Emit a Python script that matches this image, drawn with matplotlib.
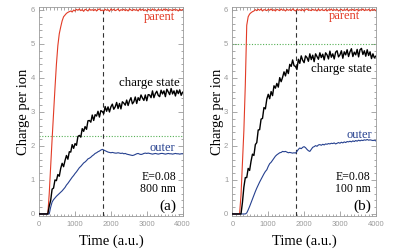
import numpy as np
import matplotlib
matplotlib.use("Agg")
import matplotlib.pyplot as plt
from matplotlib.ticker import MultipleLocator

# ---------------- data ----------------
time = np.arange(0, 4001, 40)  # sample times (a.u.), 101 samples

parent_a = [0, 0, 0, 0, 0, 0, 0, 0.6, 1.4, 2.2, 2.95, 3.7, 4.4, 4.95, 5.3, 5.5, 5.68, 5.8, 5.85, 5.9,
            5.93, 5.95, 5.97, 5.94, 6.0,
            5.97, 6.02, 5.99, 6.03, 5.98, 6.01, 5.96, 6.02, 6.00, 5.97, 6.03, 5.99, 6.01, 5.98, 6.02, 5.97, 6.01, 6.03, 5.98, 6.00,
            5.97, 6.02, 5.99, 6.01, 5.96, 6.03, 5.99, 6.02, 5.98, 6.00, 6.03, 5.97, 6.01, 5.99, 6.02, 5.98, 6.01, 5.97, 6.03, 6.00,
            5.98, 6.02, 5.99, 6.01, 5.97, 6.03, 5.99, 6.02, 5.98, 6.01, 5.97, 6.02, 6.00, 5.98, 6.03, 5.99, 6.01, 5.97, 6.02, 5.99,
            6.01, 5.98, 6.03, 5.99, 6.02, 5.97, 6.01, 6.00, 5.98, 6.02, 5.99, 6.01, 5.97, 6.02, 5.99, 6.01]

charge_a = [0, 0, 0, 0, 0, 0, 0, 0.23, 0.40, 0.73, 0.76, 1.00, 0.98, 1.16, 1.11, 1.34, 1.49, 1.39, 1.57, 1.72,
            1.61, 1.83, 1.82, 2.04, 1.93, 2.07, 2.02, 2.28, 2.31, 2.26, 2.51, 2.43, 2.57, 2.49, 2.74, 2.75, 2.70, 2.91, 2.75, 2.92,
            2.88, 3.02, 2.85, 3.04, 3.01, 2.95, 3.16, 3.02, 3.15, 3.00, 3.15, 3.23, 3.08, 3.15, 3.28, 3.10, 3.25, 3.09, 3.30, 3.26,
            3.20, 3.35, 3.19, 3.33, 3.42, 3.24, 3.30, 3.44, 3.25, 3.42, 3.34, 3.50, 3.41, 3.34, 3.50, 3.33, 3.51, 3.50, 3.42, 3.62,
            3.42, 3.54, 3.61, 3.49, 3.45, 3.64, 3.53, 3.62, 3.45, 3.67, 3.59, 3.51, 3.69, 3.53, 3.62, 3.47, 3.64, 3.54, 3.65, 3.49,
            3.58]

outer_a = [0, 0, 0, 0, 0, 0, 0, 0, 0.20, 0.35, 0.42, 0.47, 0.52, 0.56, 0.60, 0.64, 0.68, 0.73, 0.78, 0.85,
           0.90, 0.96, 1.02, 1.08, 1.13, 1.19, 1.24, 1.30, 1.36, 1.40, 1.45, 1.50, 1.53, 1.57, 1.62, 1.64, 1.67, 1.71, 1.74, 1.78,
           1.80, 1.83, 1.85, 1.88, 1.90, 1.88, 1.86, 1.84, 1.82, 1.81, 1.80, 1.81, 1.80, 1.79, 1.79, 1.80, 1.79, 1.78, 1.79, 1.77,
           1.78, 1.76, 1.75, 1.74, 1.73, 1.72, 1.73, 1.75, 1.77, 1.78, 1.76, 1.75, 1.76, 1.78, 1.79, 1.78, 1.79, 1.78, 1.77, 1.76,
           1.77, 1.78, 1.77, 1.76, 1.77, 1.78, 1.78, 1.77, 1.76, 1.77, 1.78, 1.77, 1.77, 1.76, 1.77, 1.78, 1.77, 1.77, 1.76, 1.77,
           1.77]

parent_b = [0, 0, 0, 0, 0, 0, 0.55, 1.5, 2.45, 3.8, 5.55, 5.8, 5.88, 5.92, 5.95, 5.97,
            6.01, 5.98, 6.02, 5.99, 6.03, 5.97, 6.01, 6.00, 5.98, 6.02, 5.99, 6.03, 5.98, 6.01, 5.97, 6.02, 6.00, 5.98, 6.03, 5.99,
            6.01, 5.97, 6.02, 5.99, 6.01, 5.98, 6.03, 6.00, 5.97, 6.02, 5.99, 6.01, 5.98, 6.02, 5.97, 6.01, 6.03, 5.99, 6.00, 5.98,
            6.02, 5.99, 6.01, 5.97, 6.03, 5.98, 6.01, 6.00, 5.98, 6.02, 5.97, 6.01, 5.99, 6.03, 5.98, 6.01, 5.99, 6.02, 5.97, 6.00,
            6.02, 5.98, 6.01, 5.99, 6.03, 5.97, 6.01, 5.99, 6.02, 5.98, 6.00, 6.02, 5.97, 6.01, 5.99, 6.03, 5.98, 6.01, 5.99, 6.02,
            5.97, 6.01, 5.99, 6.02, 5.98]

charge_b = [0, 0, 0, 0, 0, 0, 0, 0.34, 0.79, 1.07, 1.07, 1.34, 1.28, 1.55, 1.76, 1.72, 2.04, 2.10, 2.47, 2.48,
            2.79, 2.81, 3.13, 3.09, 3.38, 3.52, 3.39, 3.60, 3.48, 3.77, 3.70, 3.84, 3.73, 4.01, 3.89, 4.02, 4.18, 4.06, 4.25, 4.13,
            4.40, 4.34, 4.53, 4.36, 4.34, 4.25, 4.55, 4.43, 4.65, 4.52, 4.45, 4.65, 4.60, 4.49, 4.71, 4.54, 4.67, 4.48, 4.71, 4.63,
            4.55, 4.74, 4.60, 4.70, 4.53, 4.74, 4.68, 4.56, 4.79, 4.61, 4.71, 4.56, 4.76, 4.80, 4.62, 4.68, 4.80, 4.58, 4.77, 4.68,
            4.83, 4.63, 4.77, 4.86, 4.63, 4.76, 4.68, 4.84, 4.62, 4.83, 4.87, 4.69, 4.80, 4.64, 4.83, 4.66, 4.77, 4.57, 4.71, 4.59,
            4.64]

outer_b = [0, 0, 0, 0, 0, 0, 0, 0, 0, 0, 0.03, 0.12, 0.22, 0.33, 0.44, 0.55, 0.66, 0.76, 0.85, 0.94,
           1.02, 1.10, 1.18, 1.25, 1.30, 1.40, 1.48, 1.52, 1.58, 1.64, 1.70, 1.74, 1.77, 1.80, 1.81, 1.84, 1.83, 1.84, 1.82, 1.80,
           1.81, 1.80, 1.79, 1.80, 1.79, 1.84, 1.90, 1.94, 1.92, 1.96, 1.98, 1.95, 1.90, 1.86, 1.84, 1.90, 1.96, 1.98, 2.01, 1.99,
           2.03, 2.04, 2.02, 2.05, 2.03, 2.06, 2.05, 2.07, 2.06, 2.08, 2.07, 2.09, 2.06, 2.08, 2.10, 2.08, 2.11, 2.09, 2.12, 2.10,
           2.13, 2.12, 2.14, 2.12, 2.15, 2.13, 2.16, 2.14, 2.17, 2.15, 2.17, 2.16, 2.18, 2.17, 2.19, 2.17, 2.18, 2.17, 2.16, 2.17,
           2.15]

green_level = [2.28, 5.0]
dash_time = [1770, 1770]
energy = ["E=0.08", "E=0.08"]
wavelength = ["800 nm", "100 nm"]
panel_tag = ["(a)", "(b)"]

xticks = [0, 1000, 2000, 3000, 4000]
yticks = [0, 1, 2, 3, 4, 5, 6]

# ---------------- styling ----------------
RED = "#e23b26"
BLUE = "#25408f"
GRAY = "#9a9a9a"
SERIF = "Liberation Serif"
SANS = "Liberation Sans"

fig = plt.figure(figsize=(4, 2.5), dpi=100)
ax_a = fig.add_axes([0.098, 0.136, 0.3585, 0.835])
ax_b = fig.add_axes([0.581, 0.136, 0.3585, 0.835])

panels = [
    (ax_a, parent_a, charge_a, outer_a, 0,
     dict(parent=(3785, 5.80), charge=(3925, 3.86), outer=(3785, 1.93), label=(3815, 1.10, 0.74, 0.24))),
    (ax_b, parent_b, charge_b, outer_b, 1,
     dict(parent=(3562, 5.82), charge=(3888, 4.26), outer=(3888, 2.32), label=(3860, 1.10, 0.74, 0.24))),
]

for ax, par, chg, out, k, pos in panels:
    ax.plot(time, par, color=RED, lw=0.8, zorder=3)
    ax.plot(time, chg, color="black", lw=1.0, zorder=4)
    ax.plot(time, out, color=BLUE, lw=0.8, zorder=3)
    ax.axhline(green_level[k], color="#55b055", lw=0.8, ls=(0, (1, 1.5)), zorder=2)
    ax.axvline(dash_time[k], color="#333333", lw=0.8, ls=(0, (4, 3)), zorder=2)

    ax.set_xlim(0, 4000)
    ax.set_ylim(-0.06, 6.08)
    ax.set_xticks(xticks)
    ax.set_yticks(yticks)
    ax.xaxis.set_minor_locator(MultipleLocator(100))
    ax.yaxis.set_minor_locator(MultipleLocator(0.2))
    ax.tick_params(which="both", direction="in", top=True, right=True, color=GRAY, width=0.6)
    ax.tick_params(which="major", length=3.5, labelsize=5.5, labelcolor=GRAY)
    ax.tick_params(which="minor", length=1.8)
    ax.tick_params(axis="x", pad=3.5)
    ax.tick_params(axis="y", pad=3)
    for lab in ax.get_xticklabels() + ax.get_yticklabels():
        lab.set_family(SANS)
    for s in ax.spines.values():
        s.set_color(GRAY)
        s.set_linewidth(0.6)

    ax.set_xlabel("Time (a.u.)", family=SERIF, fontsize=10.5, va="center")
    ax.set_ylabel("Charge per ion", family=SERIF, fontsize=10.5, va="center")
    ax.xaxis.set_label_coords(0.5, -0.123)
    ax.yaxis.set_label_coords(-0.107, 0.5)

    ax.text(*pos["parent"], "parent", color=RED, family=SERIF, fontsize=9, ha="right", va="center", zorder=5)
    ax.text(*pos["charge"], "charge state", color="black", family=SERIF, fontsize=9.3, ha="right", va="center", zorder=5)
    ax.text(*pos["outer"], "outer", color=BLUE, family=SERIF, fontsize=9, ha="right", va="center", zorder=5)
    lx, y1, y2, y3 = pos["label"]
    ax.text(lx, y1, energy[k], family=SERIF, fontsize=8.5, ha="right", va="center")
    ax.text(lx, y2, wavelength[k], family=SERIF, fontsize=8.5, ha="right", va="center")
    ax.text(lx, y3, panel_tag[k], family=SERIF, fontsize=11, ha="right", va="center")

fig.savefig("out.png", dpi=100)
